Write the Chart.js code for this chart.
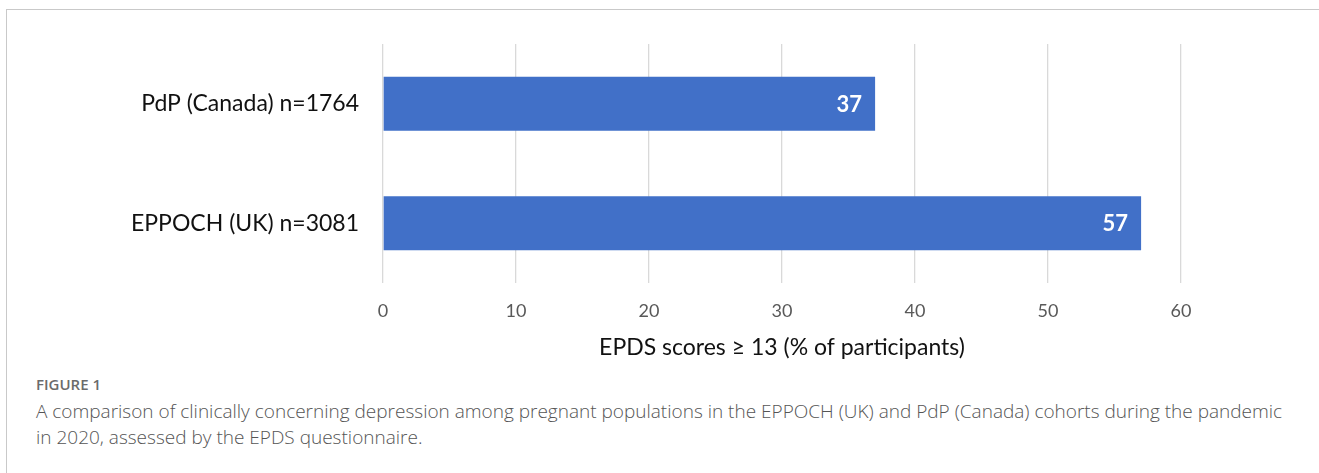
<!DOCTYPE html>
<html>
<head>
<meta charset="utf-8">
<script src="https://cdn.jsdelivr.net/npm/chart.js@4"></script>
<style>
  html, body { margin: 0; padding: 0; background: #fff; }
  body { width: 1319px; height: 473px; position: relative; overflow: hidden; }
  .frame { position: absolute; left: 6px; top: 9px; width: 1400px; height: 520px; border: 1px solid #c9c9c9; }
  .chart-wrap { position: absolute; left: 0; top: 0; width: 1319px; height: 370px; }
  .fig-label { position: absolute; left: 36px; top: 374px; font: 600 15px 'Open Sans', sans-serif; color: #6b6b6b; }
  .fig-caption { position: absolute; left: 36px; top: 398px; font: 300 19px/26px 'Open Sans', sans-serif; color: #555; white-space: nowrap; }
</style>
</head>
<body>
<div class="frame"></div>
<div class="chart-wrap"><canvas id="chart"></canvas></div>
<div class="fig-label">FIGURE 1</div>
<div class="fig-caption">A comparison of clinically concerning depression among pregnant populations in the EPPOCH (UK) and PdP (Canada) cohorts during the pandemic<br>in 2020, assessed by the EPDS questionnaire.</div>

<script>
const cohorts = ['PdP (Canada) n=1764', 'EPPOCH (UK) n=3081'];
const epdsPct = [37, 57];
const xTicks = [0, 10, 20, 30, 40, 50, 60];
const xTitle = 'EPDS scores \u2265 13 (% of participants)';

// value label drawn inside the right end of each bar
const barValueLabels = {
  id: 'barValueLabels',
  afterDatasetsDraw(chart) {
    const ctx = chart.ctx;
    const meta = chart.getDatasetMeta(0);
    ctx.save();
    ctx.font = 'bold 22px Lato, sans-serif';
    ctx.fillStyle = '#ffffff';
    ctx.textAlign = 'right';
    ctx.textBaseline = 'middle';
    meta.data.forEach((bar, i) => {
      ctx.fillText(String(epdsPct[i]), bar.x - 13, bar.y + 1);
    });
    ctx.restore();
  }
};

new Chart(document.getElementById('chart'), {
  type: 'bar',
  data: {
    labels: cohorts,
    datasets: [{
      data: epdsPct,
      backgroundColor: '#4170c8',
      barPercentage: 0.45,
      categoryPercentage: 1
    }]
  },
  options: {
    indexAxis: 'y',
    responsive: true,
    maintainAspectRatio: false,
    animation: false,
    layout: { padding: { left: 0, right: 138, top: 44, bottom: 0 } },
    plugins: { legend: { display: false }, tooltip: { enabled: false } },
    scales: {
      x: {
        min: 0, max: 60,
        afterBuildTicks(axis) { axis.ticks = xTicks.map(v => ({ value: v })); },
        afterFit(axis) { axis.height = 87; },
        grid: { color: '#d9d9d9', lineWidth: 1.3, drawTicks: false },
        border: { display: false },
        ticks: { color: '#595959', font: { family: 'Lato', size: 18 }, padding: 17 },
        title: {
          display: true, text: xTitle, color: '#111',
          font: { family: 'Lato', size: 23 }, padding: { top: 0, bottom: 9 }
        }
      },
      y: {
        afterFit(axis) { axis.width = 383; },
        grid: { display: false },
        border: { display: false },
        ticks: { color: '#111', font: { family: 'Lato', size: 23 }, padding: 16 }
      }
    }
  },
  plugins: [barValueLabels]
});
</script>
</body>
</html>
